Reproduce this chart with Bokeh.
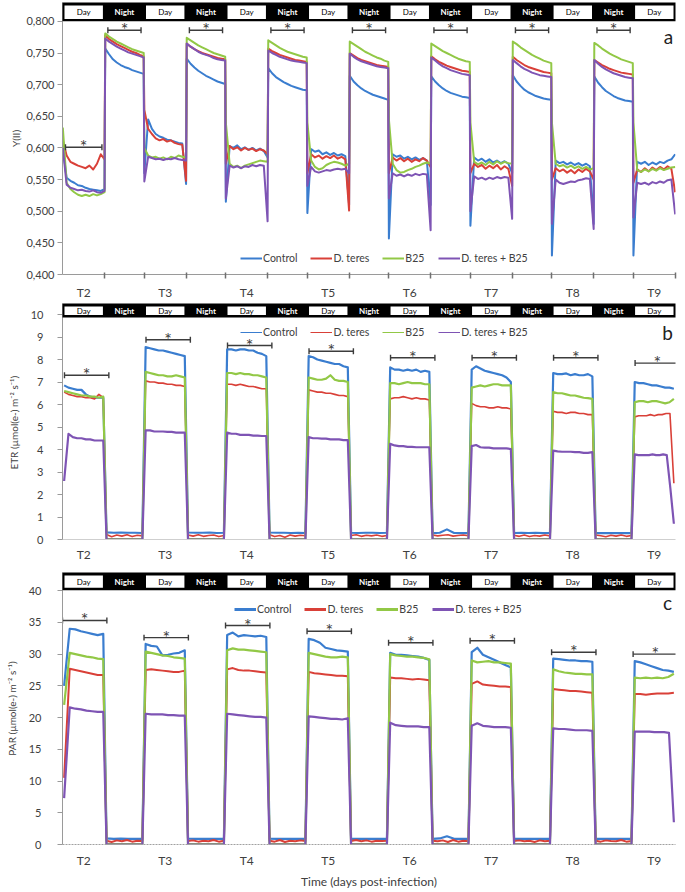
import numpy as np
from bokeh.plotting import figure
from bokeh.models import Range1d, FixedTicker, Legend, LegendItem, Label
from bokeh.layouts import column
from bokeh.embed import file_html
from bokeh.resources import INLINE
from bokeh.core.properties import value

# ----------------------------------------------------------------- data
DAY_LABELS = ["T2", "T3", "T4", "T5", "T6", "T7", "T8", "T9"]
FIRST_DAY = 2.0
LIGHT_FRACTION = 0.52          # share of each 24 h cycle that is "Day"
SERIES_NAMES = ["Control", "D. teres", "B25", "D. teres + B25"]
SERIES_COLORS = ["#3a7dcf", "#d94038", "#92c846", "#7e54b4"]

# Panel a : Y(II), one list per period (Day T2, Night, Day T3, ... Day T9)
YII_CONTROL = [
    [0.600, 0.553, 0.548, 0.545, 0.541, 0.540, 0.537, 0.535, 0.534, 0.533, 0.532, 0.535],
    [0.757, 0.748, 0.740, 0.735, 0.731, 0.728, 0.726, 0.723, 0.721, 0.719, 0.717],
    [0.560, 0.645, 0.630, 0.622, 0.618, 0.616, 0.613, 0.612, 0.610, 0.608, 0.607, 0.543],
    [0.741, 0.733, 0.727, 0.722, 0.718, 0.714, 0.711, 0.708, 0.705, 0.703, 0.701],
    [0.515, 0.603, 0.600, 0.604, 0.598, 0.601, 0.597, 0.600, 0.596, 0.599, 0.595, 0.585],
    [0.726, 0.718, 0.712, 0.708, 0.704, 0.701, 0.698, 0.696, 0.694, 0.692, 0.691],
    [0.497, 0.598, 0.594, 0.596, 0.590, 0.593, 0.589, 0.592, 0.588, 0.590, 0.587, 0.510],
    [0.714, 0.705, 0.699, 0.694, 0.690, 0.687, 0.684, 0.682, 0.680, 0.678, 0.676],
    [0.457, 0.590, 0.586, 0.588, 0.583, 0.586, 0.582, 0.585, 0.581, 0.584, 0.580, 0.510],
    [0.713, 0.705, 0.699, 0.694, 0.690, 0.687, 0.685, 0.683, 0.681, 0.680, 0.679],
    [0.477, 0.585, 0.580, 0.583, 0.578, 0.582, 0.577, 0.580, 0.576, 0.579, 0.575, 0.560],
    [0.715, 0.705, 0.698, 0.692, 0.688, 0.685, 0.682, 0.680, 0.678, 0.677, 0.676],
    [0.430, 0.580, 0.576, 0.578, 0.574, 0.577, 0.573, 0.576, 0.572, 0.575, 0.571, 0.480],
    [0.713, 0.703, 0.696, 0.690, 0.686, 0.682, 0.679, 0.677, 0.675, 0.674, 0.673],
    [0.430, 0.578, 0.575, 0.578, 0.573, 0.577, 0.574, 0.578, 0.576, 0.580, 0.582, 0.590],
]
YII_DTERES = [
    [0.612, 0.588, 0.578, 0.575, 0.572, 0.570, 0.568, 0.572, 0.566, 0.575, 0.590, 0.582],
    [0.778, 0.772, 0.768, 0.764, 0.761, 0.758, 0.755, 0.752, 0.750, 0.747, 0.745],
    [0.660, 0.630, 0.622, 0.615, 0.612, 0.614, 0.610, 0.612, 0.608, 0.606, 0.605, 0.548],
    [0.765, 0.760, 0.756, 0.753, 0.750, 0.748, 0.746, 0.744, 0.742, 0.741, 0.740],
    [0.575, 0.603, 0.598, 0.601, 0.596, 0.600, 0.597, 0.599, 0.595, 0.598, 0.596, 0.590],
    [0.757, 0.753, 0.750, 0.747, 0.745, 0.743, 0.741, 0.739, 0.738, 0.737, 0.736],
    [0.560, 0.590, 0.585, 0.588, 0.583, 0.587, 0.584, 0.588, 0.583, 0.586, 0.582, 0.501],
    [0.750, 0.746, 0.742, 0.739, 0.737, 0.735, 0.733, 0.731, 0.730, 0.729, 0.728],
    [0.560, 0.585, 0.580, 0.584, 0.579, 0.583, 0.578, 0.582, 0.579, 0.584, 0.580, 0.570],
    [0.745, 0.740, 0.736, 0.733, 0.730, 0.728, 0.726, 0.724, 0.722, 0.721, 0.720],
    [0.560, 0.575, 0.570, 0.573, 0.567, 0.572, 0.568, 0.573, 0.566, 0.571, 0.567, 0.540],
    [0.744, 0.739, 0.735, 0.731, 0.728, 0.726, 0.724, 0.722, 0.720, 0.719, 0.718],
    [0.550, 0.568, 0.563, 0.566, 0.561, 0.565, 0.560, 0.566, 0.562, 0.567, 0.563, 0.550],
    [0.739, 0.735, 0.731, 0.728, 0.725, 0.723, 0.721, 0.719, 0.718, 0.717, 0.716],
    [0.545, 0.566, 0.562, 0.568, 0.563, 0.569, 0.565, 0.570, 0.566, 0.571, 0.567, 0.530],
]
YII_B25 = [
    [0.632, 0.545, 0.535, 0.530, 0.526, 0.524, 0.526, 0.524, 0.527, 0.525, 0.527, 0.530],
    [0.781, 0.776, 0.772, 0.768, 0.765, 0.762, 0.759, 0.756, 0.754, 0.752, 0.750],
    [0.600, 0.588, 0.585, 0.586, 0.583, 0.585, 0.582, 0.586, 0.584, 0.588, 0.586, 0.585],
    [0.774, 0.770, 0.766, 0.762, 0.759, 0.756, 0.753, 0.750, 0.748, 0.746, 0.744],
    [0.640, 0.575, 0.570, 0.572, 0.568, 0.572, 0.574, 0.576, 0.578, 0.580, 0.579, 0.578],
    [0.770, 0.766, 0.762, 0.758, 0.755, 0.752, 0.750, 0.748, 0.746, 0.744, 0.743],
    [0.640, 0.580, 0.570, 0.566, 0.568, 0.573, 0.576, 0.578, 0.577, 0.575, 0.572, 0.575],
    [0.768, 0.764, 0.760, 0.756, 0.752, 0.749, 0.746, 0.743, 0.741, 0.738, 0.736],
    [0.645, 0.575, 0.565, 0.561, 0.562, 0.565, 0.567, 0.570, 0.572, 0.575, 0.577, 0.575],
    [0.765, 0.761, 0.757, 0.753, 0.750, 0.747, 0.744, 0.741, 0.739, 0.737, 0.736],
    [0.640, 0.578, 0.574, 0.577, 0.573, 0.578, 0.574, 0.579, 0.575, 0.578, 0.576, 0.575],
    [0.768, 0.764, 0.759, 0.755, 0.751, 0.747, 0.744, 0.741, 0.738, 0.736, 0.734],
    [0.640, 0.575, 0.571, 0.573, 0.569, 0.572, 0.568, 0.571, 0.567, 0.570, 0.566, 0.568],
    [0.766, 0.762, 0.757, 0.753, 0.749, 0.746, 0.743, 0.740, 0.738, 0.736, 0.734],
    [0.640, 0.565, 0.562, 0.566, 0.563, 0.567, 0.564, 0.568, 0.565, 0.567, 0.569, 0.570],
]
YII_DTERES_B25 = [
    [0.600, 0.542, 0.537, 0.535, 0.533, 0.534, 0.532, 0.531, 0.533, 0.530, 0.529, 0.532],
    [0.773, 0.768, 0.764, 0.760, 0.757, 0.754, 0.751, 0.749, 0.747, 0.745, 0.743],
    [0.547, 0.586, 0.584, 0.582, 0.583, 0.581, 0.583, 0.582, 0.584, 0.582, 0.581, 0.580],
    [0.765, 0.760, 0.756, 0.752, 0.749, 0.747, 0.745, 0.742, 0.740, 0.739, 0.738],
    [0.520, 0.572, 0.569, 0.571, 0.568, 0.571, 0.570, 0.573, 0.571, 0.573, 0.572, 0.484],
    [0.754, 0.750, 0.747, 0.744, 0.742, 0.740, 0.738, 0.737, 0.736, 0.735, 0.734],
    [0.540, 0.570, 0.563, 0.561, 0.563, 0.565, 0.564, 0.566, 0.567, 0.566, 0.567, 0.560],
    [0.749, 0.744, 0.740, 0.737, 0.735, 0.733, 0.731, 0.729, 0.728, 0.727, 0.726],
    [0.520, 0.560, 0.556, 0.558, 0.555, 0.558, 0.556, 0.559, 0.557, 0.559, 0.558, 0.470],
    [0.743, 0.738, 0.733, 0.729, 0.726, 0.723, 0.721, 0.719, 0.717, 0.716, 0.715],
    [0.500, 0.555, 0.551, 0.553, 0.550, 0.553, 0.551, 0.554, 0.552, 0.554, 0.553, 0.488],
    [0.739, 0.734, 0.729, 0.725, 0.722, 0.719, 0.717, 0.715, 0.714, 0.713, 0.712],
    [0.480, 0.550, 0.545, 0.543, 0.545, 0.547, 0.546, 0.549, 0.550, 0.552, 0.551, 0.472],
    [0.739, 0.733, 0.728, 0.724, 0.721, 0.718, 0.716, 0.714, 0.712, 0.711, 0.710],
    [0.490, 0.545, 0.543, 0.545, 0.542, 0.546, 0.544, 0.547, 0.545, 0.549, 0.550, 0.495],
]

# Panel b : ETR, day lists (T2..T9) and night lists (7 nights)
ETR_CONTROL_DAY = [
    [6.85, 6.75, 6.70, 6.65, 6.65, 6.45, 6.35, 6.30, 6.30, 6.30],
    [8.55, 8.50, 8.45, 8.40, 8.40, 8.35, 8.30, 8.25, 8.20, 8.15],
    [8.45, 8.45, 8.40, 8.45, 8.45, 8.40, 8.40, 8.30, 8.25, 8.15],
    [8.15, 8.10, 8.00, 7.95, 7.90, 7.85, 7.80, 7.80, 7.70, 7.65],
    [7.65, 7.55, 7.55, 7.50, 7.55, 7.50, 7.55, 7.45, 7.50, 7.45],
    [7.55, 7.70, 7.60, 7.50, 7.45, 7.40, 7.35, 7.30, 7.20, 7.00],
    [7.40, 7.35, 7.35, 7.38, 7.30, 7.35, 7.30, 7.30, 7.35, 7.25],
    [7.00, 6.95, 6.95, 6.90, 6.85, 6.85, 6.80, 6.75, 6.75, 6.70],
]
ETR_CONTROL_NIGHT = [
    [0.32, 0.30, 0.31, 0.30, 0.30, 0.29],
    [0.31, 0.30, 0.30, 0.31, 0.29, 0.30],
    [0.31, 0.30, 0.30, 0.29, 0.30, 0.29],
    [0.30, 0.29, 0.30, 0.30, 0.29, 0.30],
    [0.28, 0.30, 0.45, 0.29, 0.28, 0.28],
    [0.29, 0.30, 0.29, 0.30, 0.28, 0.29],
    [0.28, 0.29, 0.28, 0.29, 0.28, 0.28],
]
ETR_DTERES_DAY = [
    [6.55, 6.45, 6.40, 6.35, 6.35, 6.30, 6.30, 6.25, 6.45, 6.30],
    [7.05, 7.00, 7.00, 6.95, 6.95, 6.90, 6.90, 6.85, 6.85, 6.80],
    [6.90, 6.90, 6.85, 6.90, 6.85, 6.80, 6.80, 6.75, 6.70, 6.70],
    [6.65, 6.60, 6.55, 6.55, 6.50, 6.50, 6.45, 6.40, 6.40, 6.35],
    [6.25, 6.30, 6.30, 6.35, 6.30, 6.25, 6.30, 6.25, 6.25, 6.20],
    [6.05, 5.95, 5.90, 5.90, 5.85, 5.85, 5.90, 5.85, 5.85, 5.80],
    [5.70, 5.65, 5.65, 5.60, 5.65, 5.65, 5.60, 5.60, 5.55, 5.55],
    [5.45, 5.50, 5.50, 5.50, 5.55, 5.50, 5.55, 5.55, 5.60, 5.60, 2.50],
]
ETR_DTERES_NIGHT = [
    [0.22, 0.12, 0.20, 0.15, 0.21, 0.13, 0.19, 0.16],
    [0.20, 0.15, 0.21, 0.14, 0.18, 0.20, 0.13, 0.18],
    [0.21, 0.13, 0.18, 0.10, 0.20, 0.15, 0.19, 0.17],
    [0.18, 0.21, 0.14, 0.19, 0.16, 0.20, 0.14, 0.18],
    [0.20, 0.16, 0.19, 0.21, 0.15, 0.18, 0.20, 0.17],
    [0.19, 0.14, 0.20, 0.13, 0.18, 0.15, 0.20, 0.16],
    [0.20, 0.17, 0.12, 0.19, 0.15, 0.20, 0.14, 0.18],
]
ETR_B25_DAY = [
    [6.60, 6.55, 6.50, 6.45, 6.40, 6.40, 6.35, 6.35, 6.30, 6.35],
    [7.45, 7.40, 7.35, 7.30, 7.30, 7.25, 7.25, 7.30, 7.25, 7.20],
    [7.40, 7.40, 7.35, 7.40, 7.35, 7.35, 7.30, 7.30, 7.25, 7.20],
    [7.20, 7.15, 7.10, 7.10, 7.15, 7.30, 7.10, 7.05, 7.05, 7.00],
    [6.95, 6.95, 6.90, 6.95, 7.00, 6.95, 6.95, 6.95, 6.90, 6.90],
    [6.75, 6.80, 6.85, 6.80, 6.85, 6.90, 6.90, 6.85, 6.85, 6.85],
    [6.55, 6.50, 6.50, 6.45, 6.40, 6.40, 6.35, 6.30, 6.28, 6.25],
    [6.10, 6.15, 6.15, 6.10, 6.15, 6.15, 6.10, 6.05, 6.10, 6.25],
]
ETR_B25_NIGHT = [[0.02, 0.02, 0.02]] * 7
ETR_DTERES_B25_DAY = [
    [2.60, 4.70, 4.55, 4.50, 4.50, 4.45, 4.45, 4.40, 4.40, 4.40],
    [4.85, 4.85, 4.80, 4.80, 4.80, 4.78, 4.78, 4.75, 4.75, 4.75],
    [4.75, 4.70, 4.70, 4.65, 4.65, 4.65, 4.62, 4.62, 4.60, 4.60],
    [4.55, 4.50, 4.50, 4.48, 4.48, 4.45, 4.45, 4.45, 4.42, 4.42],
    [4.25, 4.18, 4.15, 4.15, 4.12, 4.12, 4.10, 4.10, 4.10, 4.10],
    [4.15, 4.20, 4.10, 4.08, 4.08, 4.05, 4.05, 4.05, 4.05, 4.02],
    [3.95, 3.92, 3.90, 3.90, 3.90, 3.88, 3.88, 3.85, 3.85, 3.88],
    [3.78, 3.75, 3.75, 3.75, 3.75, 3.78, 3.75, 3.75, 3.78, 3.75, 2.30, 0.70],
]
ETR_DTERES_B25_NIGHT = [[0.0, 0.0, 0.0]] * 7

# Panel c : PAR
PAR_CONTROL_DAY = [
    [25.0, 34.0, 33.9, 33.6, 33.4, 33.2, 33.0, 33.2],
    [31.6, 31.3, 31.2, 29.8, 29.9, 30.1, 30.2, 30.6],
    [33.0, 33.4, 32.8, 33.0, 32.9, 32.8, 32.9, 32.7],
    [32.4, 32.2, 31.8, 31.0, 30.8, 30.6, 30.5, 30.4],
    [30.2, 29.9, 29.9, 29.8, 29.7, 29.6, 29.4, 29.1],
    [30.3, 31.0, 29.9, 29.5, 29.1, 28.7, 28.3, 27.9],
    [29.3, 29.2, 29.1, 29.0, 29.0, 28.9, 28.9, 28.8],
    [28.9, 28.7, 28.4, 28.1, 27.8, 27.5, 27.4, 27.2],
]
PAR_CONTROL_NIGHT = [
    [0.95, 0.90, 0.92, 0.90, 0.88, 0.90],
    [0.92, 0.90, 0.91, 0.89, 0.90, 0.88],
    [0.93, 0.90, 0.88, 0.90, 0.89, 0.90],
    [0.90, 0.91, 0.89, 0.90, 0.88, 0.89],
    [0.90, 0.95, 1.30, 0.90, 0.88, 0.89],
    [0.90, 0.89, 0.90, 0.88, 0.89, 0.88],
    [0.89, 0.90, 0.88, 0.89, 0.88, 0.88],
]
PAR_DTERES_DAY = [
    [10.5, 27.7, 27.5, 27.3, 27.1, 26.9, 26.7, 26.7],
    [27.5, 27.6, 27.5, 27.4, 27.3, 27.2, 27.2, 27.4],
    [27.6, 27.8, 27.5, 27.4, 27.4, 27.3, 27.2, 27.1],
    [27.2, 27.0, 26.9, 26.8, 26.7, 26.6, 26.6, 26.5],
    [26.3, 26.2, 26.2, 26.1, 26.0, 26.1, 26.0, 25.9],
    [25.3, 25.7, 25.2, 25.1, 25.0, 24.9, 24.9, 24.8],
    [24.5, 24.4, 24.3, 24.2, 24.2, 24.1, 24.0, 23.9],
    [23.7, 23.7, 23.6, 23.7, 23.8, 23.8, 23.8, 23.9],
]
PAR_DTERES_NIGHT = [
    [0.60, 0.40, 0.65, 0.50, 0.70, 0.45, 0.60, 0.55],
    [0.55, 0.65, 0.45, 0.60, 0.50, 0.70, 0.45, 0.60],
    [0.60, 0.45, 0.70, 0.40, 0.60, 0.50, 0.65, 0.55],
    [0.55, 0.70, 0.50, 0.65, 0.45, 0.60, 0.55, 0.60],
    [0.60, 0.50, 0.65, 0.40, 0.70, 0.45, 0.60, 0.50],
    [0.55, 0.65, 0.50, 0.60, 0.40, 0.65, 0.50, 0.60],
    [0.60, 0.45, 0.65, 0.55, 0.50, 0.70, 0.45, 0.55],
]
PAR_B25_DAY = [
    [22.0, 30.2, 30.0, 29.8, 29.6, 29.5, 29.3, 29.2],
    [30.4, 30.2, 30.0, 29.8, 29.7, 29.5, 29.4, 29.3],
    [30.6, 30.9, 30.7, 30.7, 30.6, 30.5, 30.4, 30.3],
    [30.2, 30.0, 29.8, 29.6, 29.5, 29.5, 29.6, 29.5],
    [30.0, 29.8, 29.7, 29.6, 29.6, 29.5, 29.4, 29.2],
    [29.0, 28.7, 28.8, 28.9, 28.7, 28.7, 28.6, 28.5],
    [27.6, 27.3, 27.1, 27.0, 26.9, 26.9, 26.8, 26.8],
    [26.3, 26.2, 26.3, 26.2, 26.3, 26.2, 26.4, 26.9],
]
PAR_B25_NIGHT = [[0.05, 0.05, 0.05]] * 7
PAR_DTERES_B25_DAY = [
    [7.3, 21.6, 21.4, 21.3, 21.1, 21.0, 20.9, 20.9],
    [20.6, 20.5, 20.5, 20.5, 20.4, 20.4, 20.3, 20.3],
    [20.6, 20.5, 20.4, 20.3, 20.2, 20.1, 20.1, 20.0],
    [20.2, 20.1, 20.0, 19.9, 19.8, 19.8, 19.7, 19.9],
    [19.2, 18.8, 18.7, 18.6, 18.6, 18.6, 18.5, 18.5],
    [18.7, 19.1, 18.7, 18.6, 18.5, 18.5, 18.5, 18.4],
    [18.3, 18.2, 18.2, 18.1, 18.0, 18.0, 18.0, 17.9],
    [17.8, 17.8, 17.8, 17.8, 17.7, 17.7, 17.7, 17.6, 3.5],
]
PAR_DTERES_B25_NIGHT = [[0.0, 0.0, 0.0]] * 7

# significance brackets: period index (0 = Day T2, 1 = first night, ...) and level
SIG_A_PERIODS = [0, 1, 3, 5, 7, 9, 11, 13]
SIG_A_LEVELS = [0.601, 0.786, 0.786, 0.786, 0.786, 0.786, 0.786, 0.786]
SIG_B_PERIODS = [0, 2, 4, 6, 8, 10, 12, 14]
SIG_B_LEVELS = [7.30, 8.88, 8.62, 8.37, 8.08, 8.08, 8.08, 7.84]
SIG_C_PERIODS = [0, 2, 4, 6, 8, 10, 12, 14]
SIG_C_LEVELS = [35.3, 32.6, 34.5, 33.6, 31.8, 32.1, 30.3, 30.0]

Y_TICKS_A = [0.40, 0.45, 0.50, 0.55, 0.60, 0.65, 0.70, 0.75, 0.80]
Y_TICKS_B = [0, 1, 2, 3, 4, 5, 6, 7, 8, 9, 10]
Y_TICKS_C = [0, 5, 10, 15, 20, 25, 30, 35, 40]

# ----------------------------------------------------------------- helpers
FONT = "Lato"
TXT = "#404040"
N_DAYS = len(DAY_LABELS)
X_START = FIRST_DAY
X_END = FIRST_DAY + (N_DAYS - 1) + LIGHT_FRACTION
FIG_W = 685


def period_bounds(k):
    d = k // 2
    if k % 2 == 0:
        return FIRST_DAY + d, FIRST_DAY + d + LIGHT_FRACTION
    return FIRST_DAY + d + LIGHT_FRACTION, FIRST_DAY + d + 1


N_PERIODS = 2 * N_DAYS - 1
DAY_CENTERS = [FIRST_DAY + i + LIGHT_FRACTION / 2 for i in range(N_DAYS)]
BOUNDARIES = [period_bounds(k)[1] for k in range(N_PERIODS)]


def interleave(days, nights):
    out = []
    for i in range(N_DAYS):
        out.append(days[i])
        if i < N_DAYS - 1:
            out.append(nights[i])
    return out


def to_xy(periods, gap):
    xs, ys = [], []
    for k, vals in enumerate(periods):
        a, b = period_bounds(k)
        xs.extend(np.linspace(a + gap, b - gap, len(vals)).tolist())
        ys.extend(vals)
    return xs, ys


def make_fig(height, left, right, top, bottom, y0, y1):
    p = figure(width=FIG_W, height=height, title=None,
               x_range=Range1d(X_START, X_END), y_range=Range1d(y0, y1),
               output_backend="svg", toolbar_location=None,
               min_border_left=left, min_border_right=right,
               min_border_top=top, min_border_bottom=bottom)
    p.outline_line_color = None
    p.xgrid.visible = False
    p.ygrid.visible = False
    p.background_fill_color = "white"
    p.border_fill_color = "white"
    return p


def style_y(p, ticks, labels, title, standoff, title_standoff):
    ax = p.yaxis[0]
    ax.ticker = FixedTicker(ticks=ticks)
    ax.major_label_overrides = dict(zip(ticks, labels))
    ax.major_tick_in = 0
    ax.major_tick_out = 5
    ax.minor_tick_line_color = None
    ax.major_tick_line_color = "#9a9a9a"
    ax.axis_line_color = "#9a9a9a"
    ax.major_label_standoff = standoff
    ax.major_label_text_font = FONT
    ax.major_label_text_font_size = "11px"
    ax.major_label_text_color = TXT
    ax.axis_label = title
    ax.axis_label_standoff = title_standoff
    ax.axis_label_text_font = FONT
    ax.axis_label_text_font_size = "10px"
    ax.axis_label_text_font_style = "normal"
    ax.axis_label_text_color = TXT


def style_x(p, standoff, line_color, minor=False, dash="solid"):
    ax = p.xaxis[0]
    ax.ticker = FixedTicker(ticks=DAY_CENTERS, minor_ticks=BOUNDARIES if minor else [])
    ax.major_label_overrides = dict(zip(DAY_CENTERS, DAY_LABELS))
    ax.major_tick_line_color = None
    ax.major_tick_in = 0
    ax.major_tick_out = 0
    if minor:
        ax.minor_tick_line_color = "#707070"
        ax.minor_tick_line_width = 1.5
        ax.minor_tick_in = 2
        ax.minor_tick_out = 4
    else:
        ax.minor_tick_line_color = None
    ax.axis_line_color = line_color
    ax.axis_line_dash = dash
    ax.major_label_standoff = standoff
    ax.major_label_text_font = FONT
    ax.major_label_text_font_size = "12px"
    ax.major_label_text_color = TXT


def add_strip(p, y_top, px_y, strip_px, frame_w):
    px_x = frame_w / (X_END - X_START)
    y_bot = y_top - strip_px / px_y
    r = p.quad(left=[X_START], right=[X_END], top=[y_top], bottom=[y_bot],
               fill_color="black", line_color=None)
    r.level = "overlay"
    days = [period_bounds(k) for k in range(0, N_PERIODS, 2)]
    nights = [period_bounds(k) for k in range(1, N_PERIODS, 2)]
    r = p.quad(left=[a + 2 / px_x for a, b in days], right=[b - 2 / px_x for a, b in days],
               top=[y_top - 3 / px_y] * len(days), bottom=[y_bot + 2.5 / px_y] * len(days),
               fill_color="white", line_color=None)
    r.level = "overlay"
    ym = y_top - (strip_px / 2 + 0.3) / px_y
    r = p.text(x=[(a + b) / 2 for a, b in days], y=[ym] * len(days), text=["Day"] * len(days),
               text_font=value(FONT), text_font_size="8px", text_color="black",
               text_align="center", text_baseline="middle")
    r.level = "overlay"
    r = p.text(x=[(a + b) / 2 for a, b in nights], y=[ym] * len(nights), text=["Night"] * len(nights),
               text_font=value(FONT), text_font_size="8px", text_color="white",
               text_font_style="bold", text_align="center", text_baseline="middle")
    r.level = "overlay"


def add_brackets(p, periods, levels, px_y, frame_w, pad_l, pad_r):
    px_x = frame_w / (X_END - X_START)
    x0 = [period_bounds(k)[0] + pad_l / px_x for k in periods]
    x1 = [period_bounds(k)[1] + pad_r / px_x for k in periods]
    cap = 3 / px_y
    col = "#3c3c3c"
    p.segment(x0=x0, y0=levels, x1=x1, y1=levels, line_color=col, line_width=1.4)
    p.segment(x0=x0, y0=[v - cap for v in levels], x1=x0, y1=[v + cap for v in levels],
              line_color=col, line_width=1.4)
    p.segment(x0=x1, y0=[v - cap for v in levels], x1=x1, y1=[v + cap for v in levels],
              line_color=col, line_width=1.4)
    p.text(x=[(a + b) / 2 for a, b in zip(x0, x1)], y=levels, text=["*"] * len(levels),
           text_font=value(FONT), text_font_size="18px", text_color=col,
           text_align="center", text_baseline="alphabetic", y_offset=-1)


def add_series(p, series, gap, widths):
    for periods, color, w in zip(series, SERIES_COLORS, widths):
        xs, ys = to_xy(periods, gap)
        p.line(xs, ys, line_color=color, line_width=w, line_join="round")


def add_legend(p, loc, width):
    items = []
    for name, color in zip(SERIES_NAMES, SERIES_COLORS):
        r = p.line(x=[np.nan, np.nan], y=[np.nan, np.nan], line_color=color, line_width=width)
        items.append(LegendItem(label=name, renderers=[r]))
    lg = Legend(items=items, orientation="horizontal", location=loc,
                padding=0, margin=0, spacing=13, glyph_width=22, glyph_height=12,
                label_height=12, label_standoff=1, border_line_color=None,
                background_fill_alpha=0, label_text_font=FONT,
                label_text_font_size="10.5px", label_text_color=TXT)
    p.add_layout(lg)


def add_letter(p, letter, x, y):
    p.add_layout(Label(x=x, y=y, x_units="screen", y_units="screen", text=letter,
                       text_font=FONT, text_font_size="19px", text_color="#222222",
                       text_align="center", text_baseline="middle"))


# ----------------------------------------------------------------- panel a
A_H, A_L, A_R, A_T, A_B = 302, 57, 10, 2, 26
A_FW, A_FH = FIG_W - A_L - A_R, A_H - A_T - A_B
A_PX = (A_FH - 19) / (Y_TICKS_A[-1] - Y_TICKS_A[0])
A_TOP = Y_TICKS_A[-1] + 19 / A_PX
pa = make_fig(A_H, A_L, A_R, A_T, A_B, Y_TICKS_A[0], A_TOP)
add_series(pa, [YII_CONTROL, YII_DTERES, YII_B25, YII_DTERES_B25], 0.004, [2, 2, 2, 2])
add_brackets(pa, SIG_A_PERIODS, SIG_A_LEVELS, A_PX, A_FW, 3, -3)
add_strip(pa, A_TOP, A_PX, 19, A_FW)
style_y(pa, Y_TICKS_A, [f"{v:.3f}".replace(".", ",") for v in Y_TICKS_A], "Y(II)", 3, 1)
style_x(pa, 6, "#9a9a9a", minor=True)
add_legend(pa, (178, 10), 2)
add_letter(pa, "a", 606, 238)

# ----------------------------------------------------------------- panel b
B_H, B_L, B_R, B_T, B_B = 268, 59, 6, 1, 31
B_FW, B_FH = FIG_W - B_L - B_R, B_H - B_T - B_B
B_PX = (B_FH - 11) / (Y_TICKS_B[-1] - Y_TICKS_B[0])
B_TOP = Y_TICKS_B[-1] + 11 / B_PX
pb = make_fig(B_H, B_L, B_R, B_T, B_B, Y_TICKS_B[0], B_TOP)
add_series(pb, [interleave(ETR_CONTROL_DAY, ETR_CONTROL_NIGHT),
                interleave(ETR_DTERES_DAY, ETR_DTERES_NIGHT),
                interleave(ETR_B25_DAY, ETR_B25_NIGHT),
                interleave(ETR_DTERES_B25_DAY, ETR_DTERES_B25_NIGHT)], 0.02, [2.2, 1.6, 2.2, 2.2])
add_brackets(pb, SIG_B_PERIODS, SIG_B_LEVELS, B_PX, B_FW, 2, 4)
add_strip(pb, B_TOP, B_PX, 14, B_FW)
style_y(pb, Y_TICKS_B, [str(v) for v in Y_TICKS_B], "ETR (µmol(e-)  m⁻² s⁻¹)", 14, 8)
style_x(pb, 7, "#cfcfcf")
add_legend(pb, (178, 201), 1)
add_letter(pb, "b", 605, 207)

# ----------------------------------------------------------------- panel c
C_H, C_L, C_R, C_T, C_B = 321, 62, 5, 2, 42
C_FW, C_FH = FIG_W - C_L - C_R, C_H - C_T - C_B
C_PX = (C_FH - 18.5) / (Y_TICKS_C[-1] - Y_TICKS_C[0])
C_TOP = Y_TICKS_C[-1] + 18.5 / C_PX
pc = make_fig(C_H, C_L, C_R, C_T, C_B, Y_TICKS_C[0], C_TOP)
add_series(pc, [interleave(PAR_CONTROL_DAY, PAR_CONTROL_NIGHT),
                interleave(PAR_DTERES_DAY, PAR_DTERES_NIGHT),
                interleave(PAR_B25_DAY, PAR_B25_NIGHT),
                interleave(PAR_DTERES_B25_DAY, PAR_DTERES_B25_NIGHT)], 0.02, [2.2, 2, 2.2, 2.2])
add_brackets(pc, SIG_C_PERIODS, SIG_C_LEVELS, C_PX, C_FW, 0, 2)
add_strip(pc, C_TOP, C_PX, 18, C_FW)
style_y(pc, Y_TICKS_C, [str(v) for v in Y_TICKS_C], "PAR (µmol(e-) m⁻² s⁻¹)", 16, 8)
style_x(pc, 8, "#a0a0a0", dash="2 1")
pc.xaxis[0].axis_label = "Time (days post-infection)"
pc.xaxis[0].axis_label_standoff = 3
pc.xaxis[0].axis_label_text_font = FONT
pc.xaxis[0].axis_label_text_font_size = "12px"
pc.xaxis[0].axis_label_text_font_style = "normal"
pc.xaxis[0].axis_label_text_color = TXT
add_legend(pc, (172, 229), 3)
add_letter(pc, "c", 605, 242)

layout = column(pa, pb, pc, spacing=0)
open("out.html", "w").write(file_html(layout, INLINE))
